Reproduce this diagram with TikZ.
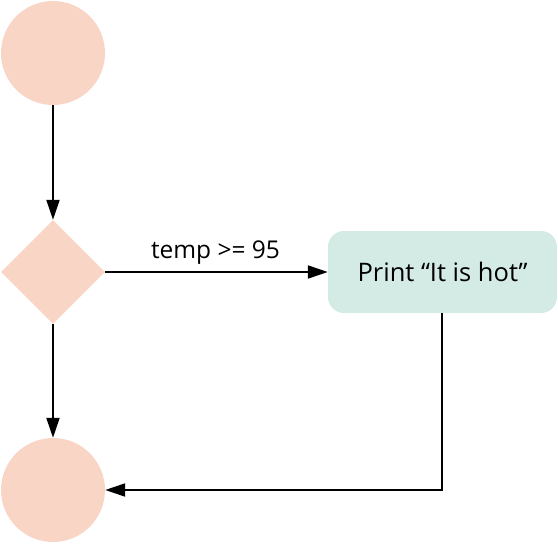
\documentclass[tikz,border=0pt]{standalone}
\usepackage{fontspec}
\setmainfont{Open Sans}
\usetikzlibrary{shapes.geometric,arrows.meta}
\definecolor{peach}{HTML}{F9D5C6}
\definecolor{mint}{HTML}{D4EAE4}
\tikzset{
  term/.style={circle,fill=peach,minimum size=104pt,inner sep=0pt},
  decision/.style={diamond,fill=peach,minimum size=104pt,inner sep=0pt},
  procbox/.style={rectangle,rounded corners=16pt,fill=mint,minimum width=229pt,minimum height=82pt,font=\fontsize{25.5}{30}\selectfont},
  flow/.style={line width=2pt,-{Triangle[length=20pt,width=13pt]}},
  lbl/.style={font=\fontsize{24.5}{29}\selectfont}
}
\begin{document}
\begin{tikzpicture}[x=1pt,y=1pt]
\useasboundingbox (0,0) rectangle (558,-544);
\node[term] (start) at (53,-53) {};
\node[decision] (dec) at (53,-272) {};
\node[term] (stop) at (53,-490) {};
\node[procbox] (print) at (442.5,-272) {Print “It is hot”};
\coordinate (corner) at (442,-490);
\draw[flow] (start) -- (dec);
\draw[flow] (dec) -- (stop);
\draw[flow] (dec.east) -- node[lbl,above=3pt,xshift=-1pt]{temp >= 95} (print.west);
\draw[flow] (print.south -| corner) -- (corner) -- (stop.east);
\end{tikzpicture}
\end{document}
